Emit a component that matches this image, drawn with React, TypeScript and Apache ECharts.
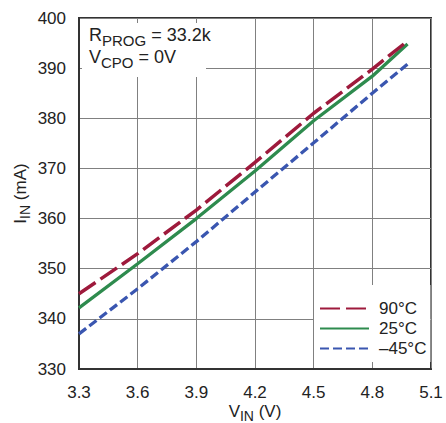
import React, { useEffect, useRef } from "react";
import * as echarts from "echarts";

const vin = [3.3, 3.6, 3.9, 4.2, 4.5, 4.8, 4.98];
const i90 = [345.0, 353.0, 361.7, 371.2, 381.0, 389.8, 395.4];
const i25 = [342.2, 351.0, 360.0, 369.5, 379.5, 388.4, 394.8];
const iM45 = [337.0, 346.0, 355.4, 365.3, 375.1, 385.0, 390.8];
const seriesNames = ["90°C", "25°C", "–45°C"];

const FONT = '"Liberation Sans", Arial, sans-serif';
const TXT = "#222";

const pairs = (ys: number[]) => vin.map((x, i) => [x, ys[i]]);

export default function App() {
  const ref = useRef<HTMLDivElement>(null);
  useEffect(() => {
    if (!ref.current) return;
    const chart = echarts.init(ref.current, null, { renderer: "svg" });
    const sub = {
      r: { fontSize: 17, fontFamily: FONT, color: TXT, lineHeight: 20, verticalAlign: "top" },
      s: { fontSize: 14, fontFamily: FONT, color: TXT, lineHeight: 10, verticalAlign: "bottom" },
    };
    chart.setOption({
      animation: false,
      backgroundColor: "#fff",
      grid: {
        left: 79,
        right: 15,
        top: 18,
        bottom: 54,
        show: true,
        borderColor: "#333",
        borderWidth: 2,
        outerBoundsMode: "none",
        containLabel: false,
      },
      xAxis: {
        type: "value",
        min: 3.3,
        max: 5.1,
        interval: 0.3,
        name: "{r|V}{s|IN}{r| (V)}",
        nameLocation: "middle",
        nameGap: 34,
        nameMoveOverlap: false,
        nameTextStyle: { rich: sub },
        axisLine: { show: true, lineStyle: { color: "#333", width: 2 } },
        axisTick: { show: false },
        axisLabel: {
          formatter: (v: number) => v.toFixed(1),
          fontFamily: FONT,
          fontSize: 17,
          color: TXT,
          margin: 15,
        },
        splitLine: { show: true, lineStyle: { color: "#808080", width: 1 } },
      },
      yAxis: {
        type: "value",
        min: 330,
        max: 400,
        interval: 10,
        name: "{r|I}{s|IN}{r| (mA)}",
        nameLocation: "middle",
        nameGap: 47,
        nameMoveOverlap: false,
        nameTextStyle: { rich: sub },
        axisLine: { show: true, lineStyle: { color: "#333", width: 2 } },
        axisTick: { show: false },
        axisLabel: { fontFamily: FONT, fontSize: 17, color: TXT, margin: 13 },
        splitLine: { show: true, lineStyle: { color: "#808080", width: 1 } },
      },
      legend: {
        orient: "vertical",
        left: 314,
        top: 285,
        backgroundColor: "#fff",
        padding: [15, 4, 5, 5],
        itemGap: 3,
        itemWidth: 49,
        itemHeight: 18,
        itemStyle: { opacity: 0, borderWidth: 0 },
        data: seriesNames,
        textStyle: { fontFamily: FONT, fontSize: 17, color: TXT, padding: [0, 0, 0, 5] },
      },
      graphic: [
        {
          type: "rect",
          shape: { x: 82, y: 23, width: 124, height: 54 },
          style: { fill: "#fff" },
          z: 10,
        },
        {
          type: "text",
          x: 89,
          y: 26,
          z: 11,
          style: {
            text: "{r|R}{s|PROG}{r| = 33.2k}\n{r|V}{s|CPO}{r| = 0V}",
            rich: {
              r: { fontSize: 18, fontFamily: FONT, fill: TXT, lineHeight: 22, verticalAlign: "top" },
              s: { fontSize: 15, fontFamily: FONT, fill: TXT, lineHeight: 10, verticalAlign: "bottom" },
            },
          },
        },
      ],
      series: [
        {
          name: seriesNames[0],
          type: "line",
          data: pairs(i90),
          symbol: "none",
          showSymbol: false,
          lineStyle: { color: "#9e1a3c", width: 3.5, type: [20, 6] },
          itemStyle: { color: "#9e1a3c" },
          z: 5,
        },
        {
          name: seriesNames[1],
          type: "line",
          data: pairs(i25),
          symbol: "none",
          showSymbol: false,
          lineStyle: { color: "#2e8b4e", width: 3.3, type: "solid" },
          itemStyle: { color: "#2e8b4e" },
          z: 4,
        },
        {
          name: seriesNames[2],
          type: "line",
          data: pairs(iM45),
          symbol: "none",
          showSymbol: false,
          lineStyle: { color: "#3a56b0", width: 3.3, type: [9, 4] },
          itemStyle: { color: "#3a56b0" },
          z: 3,
        },
      ],
    });
    return () => chart.dispose();
  }, []);
  return <div ref={ref} style={{ width: 446, height: 423, position: "absolute", left: 0, top: 0 }} />;
}
